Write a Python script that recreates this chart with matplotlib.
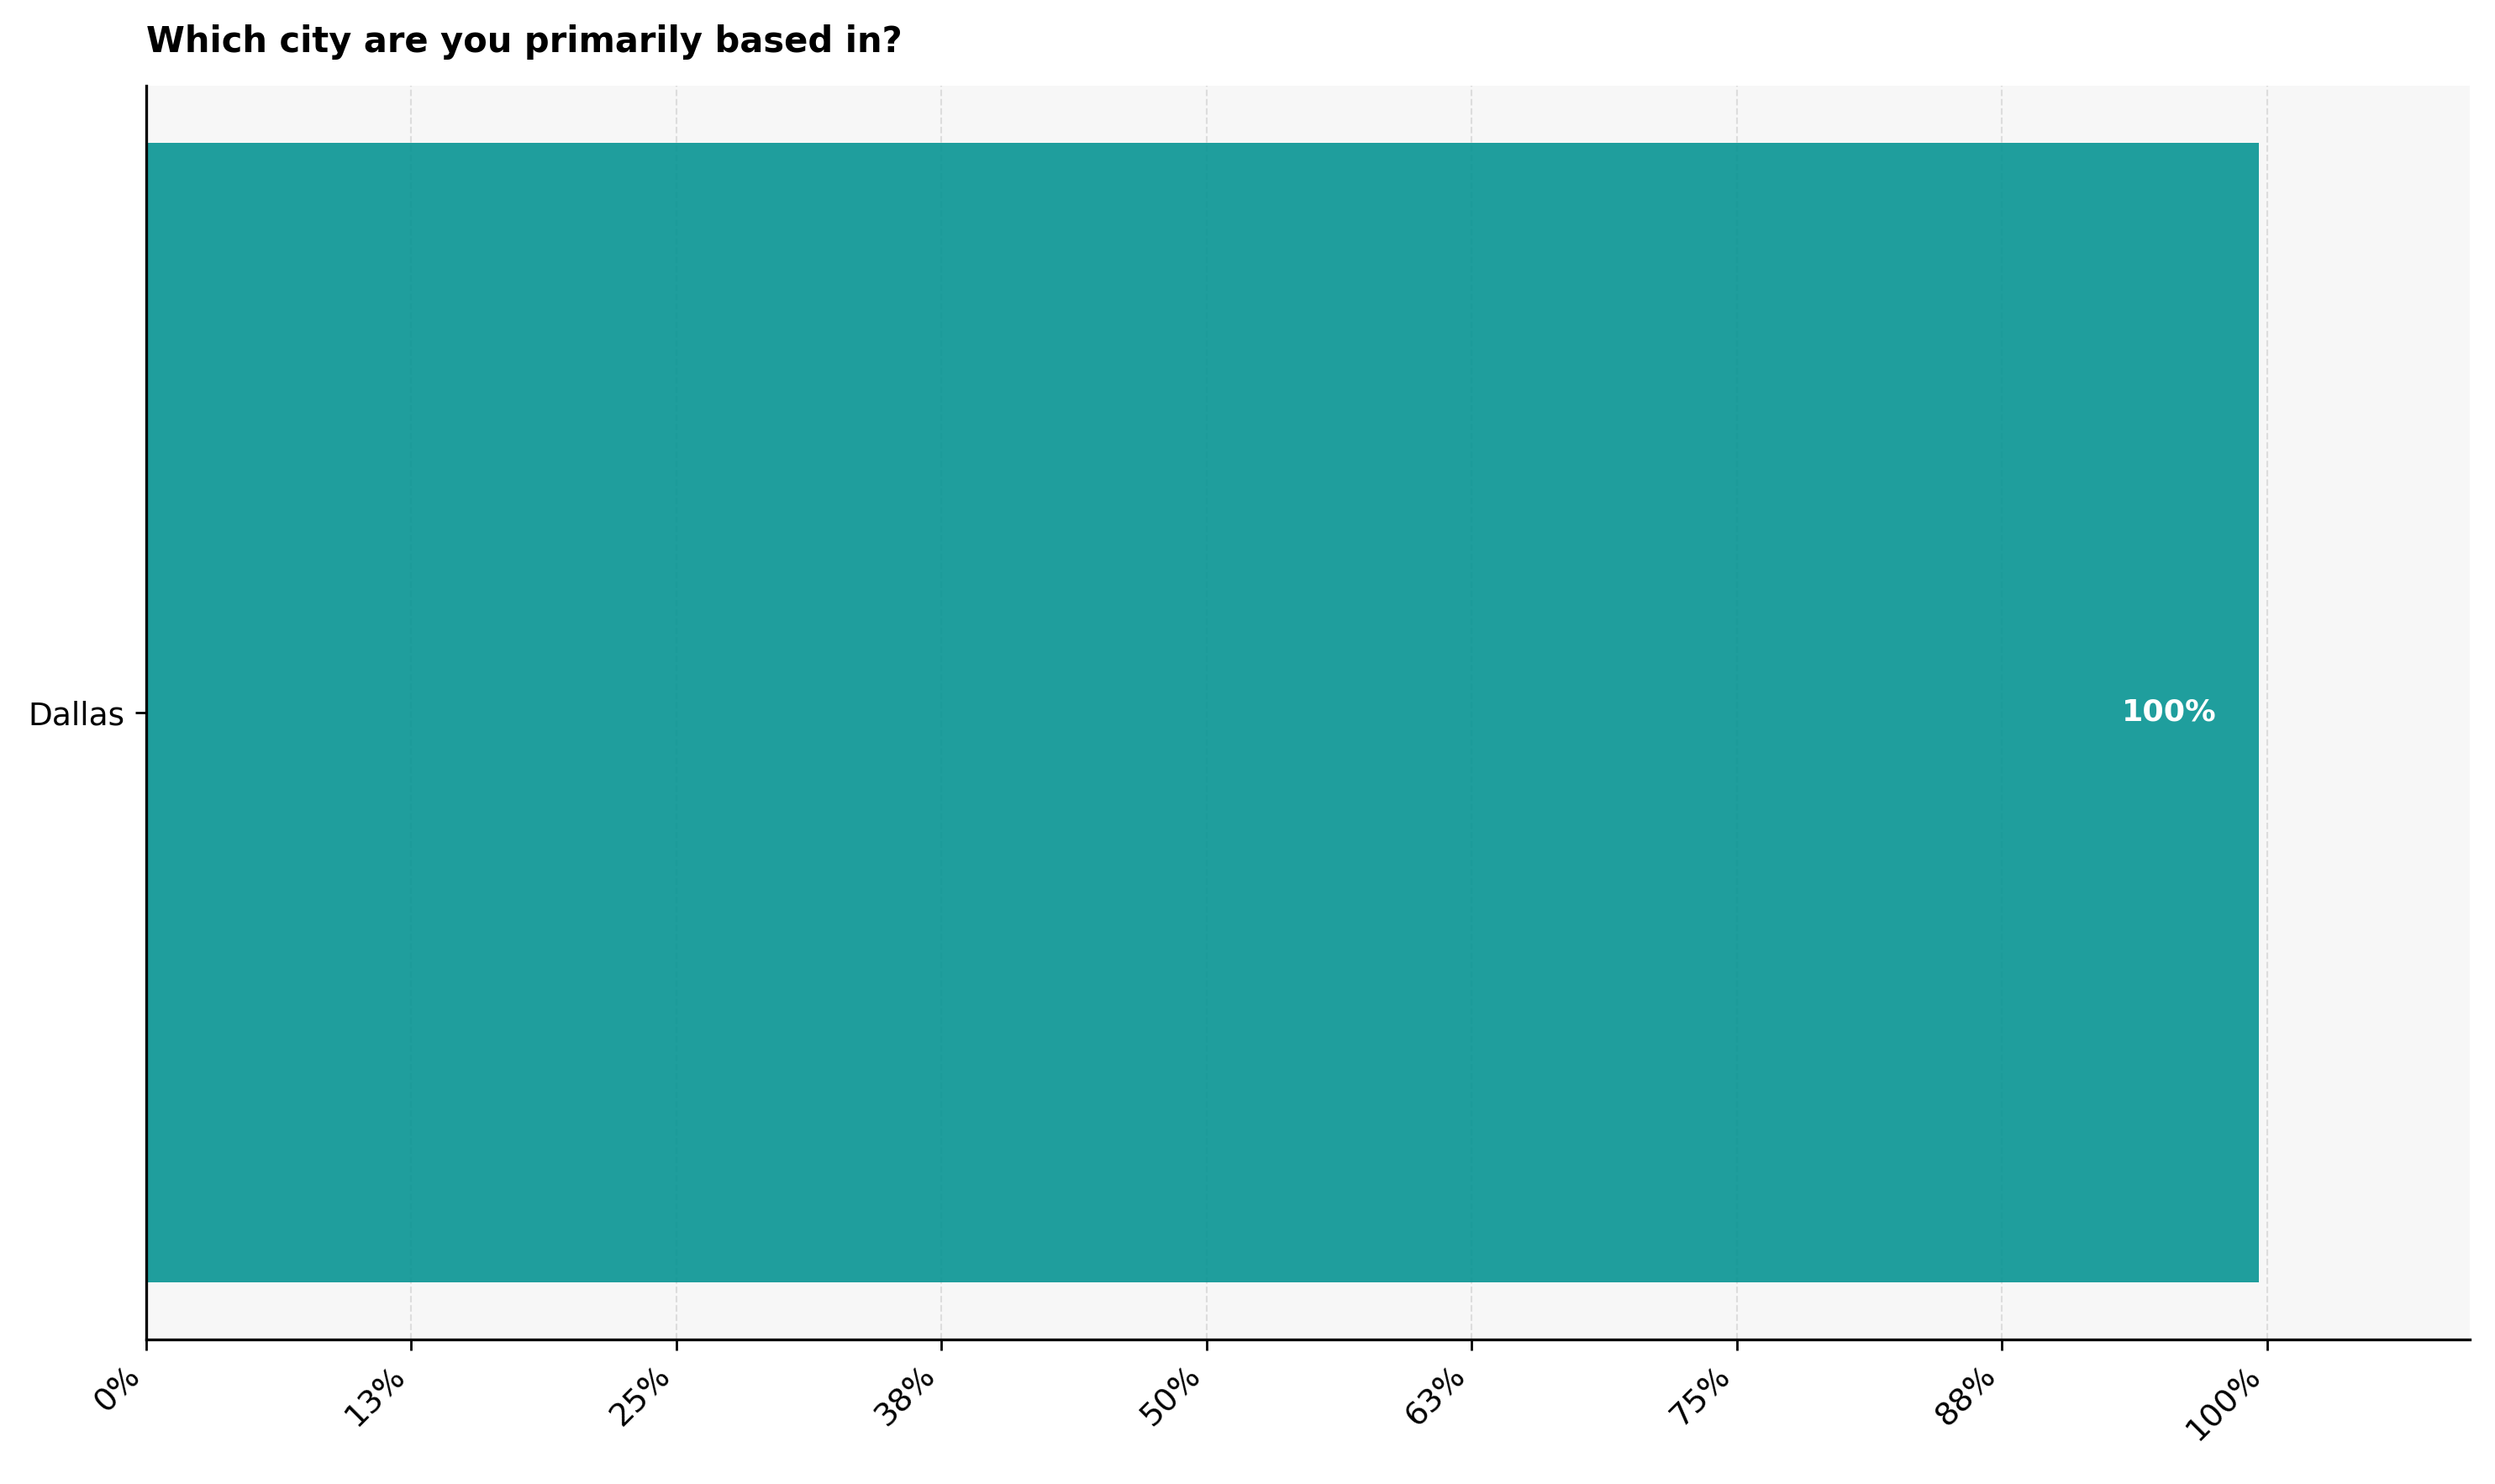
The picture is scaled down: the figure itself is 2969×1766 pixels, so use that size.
import matplotlib
matplotlib.use('Agg')
import matplotlib.pyplot as plt

# survey answer shares (bar value as drawn, label as printed)
cities = ['Dallas']
shares = [99.6]
share_labels = ['100%']

tick_vals = [0, 12.5, 25, 37.5, 50, 62.5, 75, 87.5, 100]
tick_labels = ['0%', '13%', '25%', '38%', '50%', '63%', '75%', '88%', '100%']

title = 'Which city are you primarily based in?'

DPI = 250
fig, ax = plt.subplots(figsize=(2969 / DPI, 1766 / DPI), dpi=DPI)
fig.subplots_adjust(left=0.0586, right=0.9899, top=0.9424, bottom=0.0974)

ax.set_facecolor('#f7f7f7')
ax.set_axisbelow(True)
ax.grid(axis='x', linestyle='--', linewidth=0.6, color='#dddddd')

bars = ax.barh(cities, shares, height=0.7, color='#079493', alpha=0.9)
for b, txt in zip(bars, share_labels):
    ax.text(b.get_width() - 2, b.get_y() + b.get_height() / 2, txt,
            ha='right', va='center', color='white', fontweight='bold',
            fontsize=10.5)

ax.set_xlim(0, max(shares) * 1.1)
ax.set_xticks(tick_vals)
ax.set_xticklabels(tick_labels, rotation=45, ha='right', fontsize=10.9)
ax.tick_params(axis='y', labelsize=10.8)
ax.tick_params(length=3.8, width=0.8)

for s in ['top', 'right']:
    ax.spines[s].set_visible(False)
for s in ['left', 'bottom']:
    ax.spines[s].set_linewidth(0.95)

ax.set_title(title, loc='left', fontsize=12, fontweight='bold', pad=11.5)

plt.savefig('out.png', dpi=DPI)
